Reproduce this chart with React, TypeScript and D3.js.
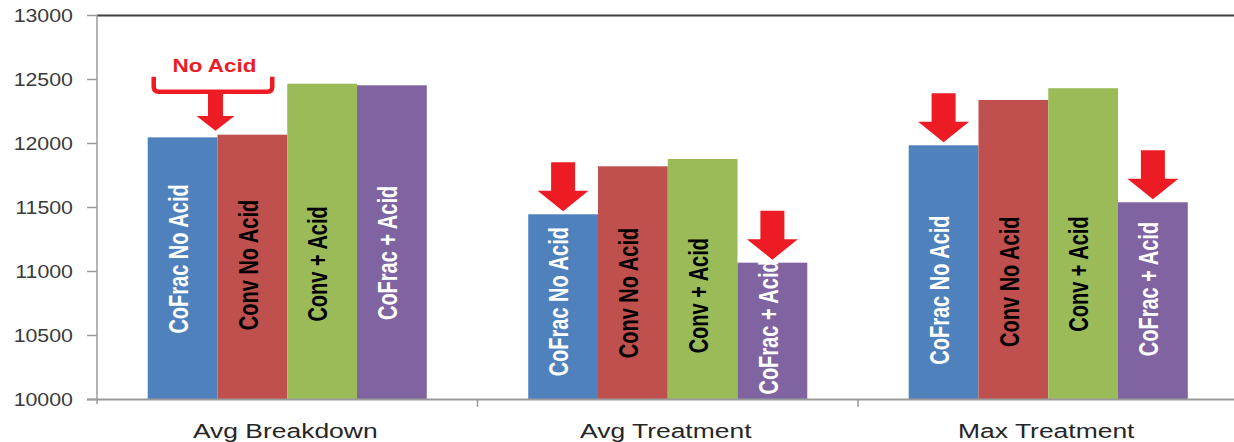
import React from "react";
import * as d3 from "d3";

const categories = ["Avg Breakdown", "Avg Treatment", "Max Treatment"];
const seriesNames = ["CoFrac No Acid", "Conv No Acid", "Conv + Acid", "CoFrac + Acid"];
const seriesColors = ["#4F81BD", "#C0504D", "#9BBB59", "#8064A2"];
const labelColors = ["#ffffff", "#000000", "#000000", "#ffffff"];
// values[category][series]
const avgBreakdown = [12048, 12069, 12467, 12455];
const avgTreatment = [11447, 11822, 11879, 11069];
const maxTreatment = [11986, 12340, 12432, 11541];
const values = [avgBreakdown, avgTreatment, maxTreatment];
// value (data units) where each in-bar label is centred
const labelAnchorBreakdown = [11098, 11051, 11059, 11145];
const labelAnchorAvgTreat = [10764, 10832, 10811, 10563];
const labelAnchorMaxTreat = [10855, 10920, 10980, 10863];
const labelAnchors = [labelAnchorBreakdown, labelAnchorAvgTreat, labelAnchorMaxTreat];
// arrows: [categoryIndex, seriesIndex]
const arrowMarks: [number, number][] = [
  [1, 0],
  [1, 3],
  [2, 0],
  [2, 3],
];
const yTicks = [10000, 10500, 11000, 11500, 12000, 12500, 13000];
const bracketText = "No Acid";

const W = 1234;
const H = 442;
const RED = "#ED1C24";

export default function App() {
  const x0 = d3.scaleBand<string>().domain(categories).range([97, 1238.5]).paddingInner(0).paddingOuter(0);
  const x1 = d3
    .scaleBand<string>()
    .domain(seriesNames)
    .range([0, x0.bandwidth()])
    .paddingInner(0)
    .paddingOuter(0.727);
  const y = d3.scaleLinear().domain([10000, 13000]).range([399.5, 15.5]);

  const arrowPath = (cx: number, tip: number, shaftW: number, headW: number, headH: number, total: number) => {
    const top = tip - total;
    const hs = tip - headH;
    return `M${cx - shaftW / 2},${top} H${cx + shaftW / 2} V${hs} H${cx + headW / 2} L${cx},${tip} L${cx - headW / 2},${hs} H${cx - shaftW / 2} Z`;
  };

  // bracket over first two bars of the first category
  const c0 = categories[0];
  const bx0 = (x0(c0) as number) + (x1(seriesNames[0]) as number);
  const bx1 = (x0(c0) as number) + (x1(seriesNames[1]) as number) + x1.bandwidth();
  const redTop = y(values[0][1]);
  const bracketBase = redTop - 43;
  const bl = bx0 + 6;
  const br = bx1 - 15;
  const bTop = bracketBase - 15;
  const bMid = (bx0 + bx1) / 2 - 36;
  const arrowCx = (x0(c0) as number) + (x1(seriesNames[1]) as number) - 2;

  return (
    <svg
      width={W}
      height={H}
      style={{ position: "absolute", left: 0, top: 0, background: "#fff" }}
      fontFamily="'Liberation Sans', Arial, sans-serif"
    >
      {/* bars */}
      {categories.map((c, ci) =>
        seriesNames.map((s, si) => {
          const bx = (x0(c) as number) + (x1(s) as number);
          const v = values[ci][si];
          return (
            <rect
              key={c + s}
              x={bx}
              y={y(v)}
              width={x1.bandwidth()}
              height={y(10000) - y(v)}
              fill={seriesColors[si]}
            />
          );
        })
      )}
      {/* in-bar labels */}
      {categories.map((c, ci) =>
        seriesNames.map((s, si) => {
          const cx = (x0(c) as number) + (x1(s) as number) + x1.bandwidth() / 2 - 4.5;
          const cy = y(labelAnchors[ci][si]);
          return (
            <g key={"l" + c + s} transform={`translate(${cx},${cy}) scale(1.35,1) rotate(-90)`}>
              <text
                textAnchor="middle"
                dy="0.36em"
                fontSize={20}
                fontWeight="bold"
                fill={labelColors[si]}
              >
                {s}
              </text>
            </g>
          );
        })
      )}
      {/* axes */}
      <line x1={97} x2={W} y1={15.5} y2={15.5} stroke="#404040" strokeWidth={2} />
      <line x1={97} x2={97} y1={15} y2={404} stroke="#9a9a9a" strokeWidth={1.5} />
      <line x1={87} x2={W} y1={399.5} y2={399.5} stroke="#9a9a9a" strokeWidth={1.8} />
      {yTicks.map((t) => (
        <g key={t}>
          <line x1={87} x2={97} y1={y(t)} y2={y(t)} stroke="#9a9a9a" strokeWidth={1.5} />
          <g transform={`translate(73,${y(t) + 0.5}) scale(1.22,1)`}>
            <text textAnchor="end" dy="0.36em" fontSize={17.5} fill="#3a3a3a">
              {t}
            </text>
          </g>
        </g>
      ))}
      {categories.slice(1).map((c) => (
        <line
          key={"t" + c}
          x1={x0(c) as number}
          x2={x0(c) as number}
          y1={399.5}
          y2={407}
          stroke="#9a9a9a"
          strokeWidth={1.5}
        />
      ))}
      {categories.map((c) => (
        <g key={"c" + c} transform={`translate(${(x0(c) as number) + x0.bandwidth() / 2 - 2},437.7) scale(1.26,1)`}>
          <text textAnchor="middle" fontSize={21} fill="#262626">
            {c}
          </text>
        </g>
      ))}
      {/* arrows */}
      {arrowMarks.map(([ci, si]) => {
        const c = categories[ci];
        const s = seriesNames[si];
        const cx = (x0(c) as number) + (x1(s) as number) + x1.bandwidth() / 2;
        const tip = y(values[ci][si]) - 3;
        return <path key={"a" + ci + si} d={arrowPath(cx, tip, 24, 51, 20.5, 49)} fill={RED} />;
      })}
      {/* bracket annotation */}
      <path
        d={`M${bl},${bTop} V${bracketBase - 5} Q${bl},${bracketBase} ${bl + 5},${bracketBase} H${br - 5} Q${br},${bracketBase} ${br},${bracketBase - 5} V${bTop}`}
        fill="none"
        stroke={RED}
        strokeWidth={4.5}
      />
      <path d={arrowPath(arrowCx, redTop - 4, 15, 38, 14.7, redTop - 4 - bracketBase)} fill={RED} />
      <g transform={`translate(${bMid + 36 - 3},${bTop - 5}) scale(1.18,1)`}>
        <text textAnchor="middle" fontSize={19} fontWeight="bold" fill={RED}>
          {bracketText}
        </text>
      </g>
    </svg>
  );
}
